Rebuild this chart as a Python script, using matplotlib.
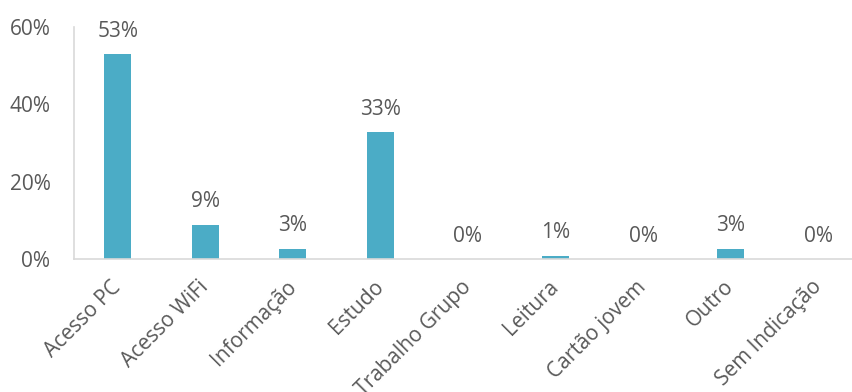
import matplotlib.pyplot as plt
from matplotlib.ticker import PercentFormatter
import numpy as np

categorias = ['Acesso PC', 'Acesso WiFi', 'Informação', 'Estudo', 'Trabalho Grupo',
              'Leitura', 'Cartão jovem', 'Outro', 'Sem Indicação']
valores = [0.53, 0.088, 0.026, 0.328, 0.0, 0.008, 0.0, 0.026, 0.0]
rotulos = ['53%', '9%', '3%', '33%', '0%', '1%', '0%', '3%', '0%']

plt.rcParams['font.family'] = ['Open Sans', 'DejaVu Sans']
cor_texto = '#595959'
cor_eixo = '#D9D9D9'

fig = plt.figure(figsize=(8.52, 3.92), dpi=100)
ax = fig.add_axes([74 / 852, 133 / 392, 788 / 852, 232 / 392])

x = np.arange(len(categorias))
ax.bar(x, valores, width=0.31, color='#4BACC6')

for xi, v, r in zip(x, valores, rotulos):
    ax.annotate(r, (xi, v), xytext=(0, 9), textcoords='offset points',
                ha='center', va='bottom', fontsize=15, color=cor_texto)

ax.set_xlim(-0.5, len(categorias) - 0.5)
ax.set_ylim(0, 0.6)
ax.set_yticks([0, 0.2, 0.4, 0.6])
ax.yaxis.set_major_formatter(PercentFormatter(1.0, decimals=0))
ax.set_xticks(x)
ax.set_xticklabels(categorias, rotation=45, ha='right', va='center',
                   rotation_mode='anchor')

ax.tick_params(axis='y', length=0, pad=17, labelsize=15, labelcolor=cor_texto)
ax.tick_params(axis='x', length=0, pad=18, labelsize=15, labelcolor=cor_texto)

for s in ['top', 'right']:
    ax.spines[s].set_visible(False)
for s in ['left', 'bottom']:
    ax.spines[s].set_color(cor_eixo)
    ax.spines[s].set_linewidth(1.2)

fig.savefig('out.png', dpi=100)
